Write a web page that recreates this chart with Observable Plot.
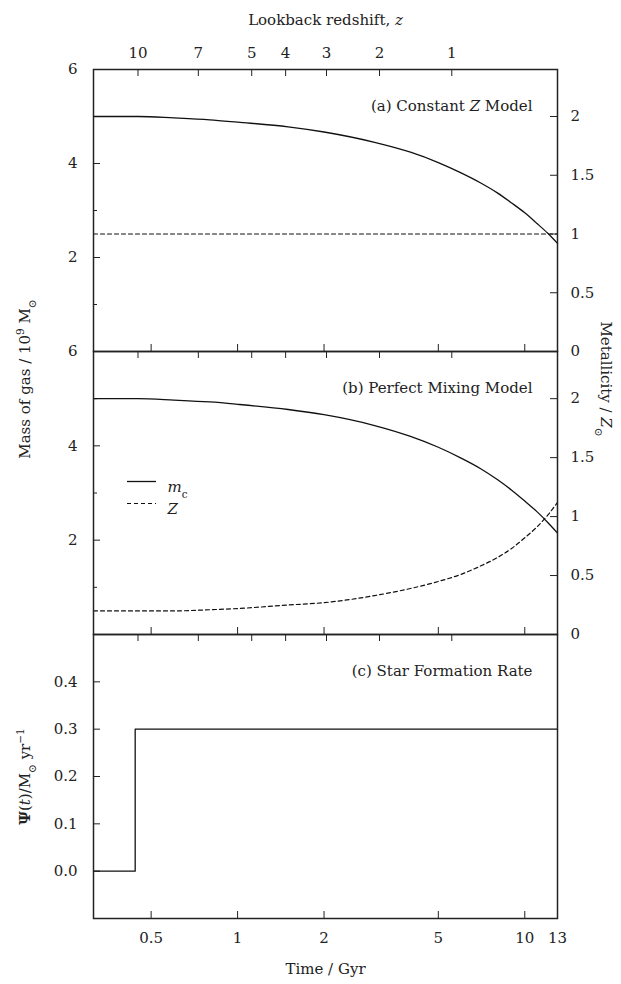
<!DOCTYPE html>
<html><head><meta charset="utf-8">
<script src="https://cdn.jsdelivr.net/npm/d3@7"></script>
<script src="https://cdn.jsdelivr.net/npm/@observablehq/plot@0.6"></script>
<style>
body{margin:0;background:#fff;}
#chart{position:relative;width:621px;height:984px;}
#chart svg{position:absolute;left:0;overflow:visible;}
</style></head><body><div id="chart"></div>
<script>
// ---- data ----
const timeTicks = [0.5, 1, 2, 5, 10, 13];
const timeTickLabels = ["0.5", "1", "2", "5", "10", "13"];
const redshiftTicks = [10, 7, 5, 4, 3, 2, 1];
const redshiftTimes = [0.45, 0.73, 1.12, 1.47, 2.04, 3.12, 5.57];
const curveTimes = [0.315, 0.45, 0.6, 0.8, 1, 1.5, 2, 3, 4, 5, 6, 7, 8, 9, 10, 11, 12, 13];
const massConstZ = [5, 5, 4.97, 4.93, 4.88, 4.78, 4.67, 4.45, 4.24, 4.02, 3.80, 3.59, 3.38, 3.16, 2.95, 2.73, 2.52, 2.30];
const metalConstZ = [1, 1, 1, 1, 1, 1, 1, 1, 1, 1, 1, 1, 1, 1, 1, 1, 1, 1];
const massMixing = [5, 5, 4.97, 4.93, 4.88, 4.77, 4.66, 4.43, 4.20, 3.97, 3.74, 3.52, 3.29, 3.06, 2.83, 2.61, 2.38, 2.15];
const metalMixing = [0.2, 0.2, 0.2, 0.21, 0.22, 0.25, 0.27, 0.33, 0.39, 0.45, 0.51, 0.58, 0.65, 0.73, 0.82, 0.91, 1.01, 1.12];
const sfrTimes = [0.315, 0.44, 13];
const sfrValues = [0, 0.3, 0.3];
const massTicksMajor = [0, 2, 4, 6];
const massTicksMinor = [1, 3, 5];
const massLabels = [2, 4, 6];
const metalTicks = [0, 0.5, 1, 1.5, 2];
const sfrTicks = [0, 0.1, 0.2, 0.3, 0.4];
const legendKeys = ["m_c", "Z"];

// ---- layout ----
const W = 621, ML = 93, MR = 64, FW = W - ML - MR;
const xDomain = [0.315, 13];
const massDomain = [0, 6];
const metalFactor = 6 / 2.4;
const FONT = "DejaVu Serif, Liberation Serif, serif";
const INK = "#222";

function tbl(keys, cols) {
  return keys.map((_, i) => Object.fromEntries(Object.entries(cols).map(([k, v]) => [k, v[i]])));
}

function commonMarks(H) {
  return [
    Plot.tickX(timeTicks.filter(d => d < 13), {x: d => d, insetTop: H - 7, stroke: INK}),
    Plot.tickX(redshiftTimes, {x: d => d, insetBottom: H - 7, stroke: INK})
  ];
}

function panel({H, mt, mb, yDomain, marks}) {
  return Plot.plot({
    width: W, height: H + mt + mb,
    marginLeft: ML, marginRight: MR, marginTop: mt, marginBottom: mb,
    x: {type: "log", domain: xDomain, axis: null},
    y: {domain: yDomain, axis: null},
    style: {fontFamily: FONT, fontSize: "15px", color: INK, background: "transparent", overflow: "visible"},
    marks: [...commonMarks(H), ...marks, Plot.frame({stroke: INK, strokeWidth: 1.5})]
  });
}

function gasPanel(H, mt, mb, mass, metal, label, extra) {
  const rows = tbl(curveTimes, {t: curveTimes, m: mass, z: metal});
  return panel({H, mt, mb, yDomain: massDomain, marks: [
    Plot.tickY(massTicksMajor, {y: d => d, insetRight: FW - 7, stroke: INK}),
    Plot.tickY(massTicksMinor, {y: d => d, insetRight: FW - 4, stroke: INK}),
    Plot.tickY(metalTicks, {y: d => d * metalFactor, insetLeft: FW - 7, stroke: INK}),
    Plot.text(massLabels, {y: d => d, frameAnchor: "left", dx: -16, textAnchor: "end", text: d => String(d), fill: INK}),
    Plot.text(metalTicks, {y: d => d * metalFactor, frameAnchor: "right", dx: 13, textAnchor: "start", text: d => String(d), fill: INK}),
    Plot.line(rows, {x: "t", y: "m", stroke: "#111", strokeWidth: 1.3, curve: "monotone-x"}),
    Plot.line(rows, {x: "t", y: d => d.z * metalFactor, stroke: "#111", strokeWidth: 1.2, strokeDasharray: "4,3", curve: "monotone-x"}),
    Plot.text([label], {frameAnchor: "top-right", dx: -25, dy: 31, textAnchor: "end", text: d => d, fill: INK}),
    ...extra
  ]});
}

const chart = document.getElementById("chart");

// Panel (a)
const pa = gasPanel(282, 69, 0, massConstZ, metalConstZ, "(a) Constant Z Model", [
  Plot.text(redshiftTicks, {x: (d, i) => redshiftTimes[i], frameAnchor: "top", dy: -22, text: d => String(d), fill: INK}),
  Plot.text(["Lookback redshift, z"], {frameAnchor: "top", dy: -55, text: d => d, fill: INK})
]);
pa.style.top = "0px";
chart.appendChild(pa);

// Panel (b)
const pb = gasPanel(283, 0, 0, massMixing, metalMixing, "(b) Perfect Mixing Model", [
  Plot.tickY([legendKeys[0]], {y: () => massDomain[1], dy: 130, insetLeft: 34, insetRight: FW - 63, stroke: "#111", strokeWidth: 1.3}),
  Plot.tickY([legendKeys[1]], {y: () => massDomain[1], dy: 152, insetLeft: 34, insetRight: FW - 63, stroke: "#111", strokeWidth: 1.2, strokeDasharray: "4,3"}),
  Plot.text([legendKeys[0]], {frameAnchor: "top-left", dx: 74, dy: 130, text: d => d, textAnchor: "start", fill: INK}),
  Plot.text([legendKeys[1]], {frameAnchor: "top-left", dx: 74, dy: 152, text: d => d, textAnchor: "start", fill: INK}),
  Plot.text(["Mass of gas / 10⁹ M⊙"], {frameAnchor: "left", dx: -68, dy: -114, rotate: -90, textAnchor: "middle", text: d => d, fill: INK}),
  Plot.text(["Metallicity / Z⊙"], {frameAnchor: "right", dx: 48, dy: -114, rotate: 90, textAnchor: "middle", text: d => d, fill: INK})
]);
pb.style.top = "351px";
chart.appendChild(pb);

// Panel (c)
const sfrRows = tbl(sfrTimes, {t: sfrTimes, s: sfrValues});
const pc = panel({H: 284, mt: 0, mb: 66, yDomain: [-0.1, 0.5], marks: [
  Plot.tickY(sfrTicks, {y: d => d, insetRight: FW - 7, stroke: INK}),
  Plot.text(sfrTicks, {y: d => d, frameAnchor: "left", dx: -16, textAnchor: "end", text: d => d.toFixed(1), fill: INK}),
  Plot.text(timeTicks, {x: d => d, frameAnchor: "bottom", dy: 24, text: (d, i) => timeTickLabels[i], fill: INK}),
  Plot.text(["Time / Gyr"], {frameAnchor: "bottom", dy: 55, text: d => d, fill: INK}),
  Plot.text(["Ψ(t)/M⊙ yr⁻¹"], {frameAnchor: "left", dx: -68, rotate: -90, textAnchor: "middle", text: d => d, fill: INK}),
  Plot.line(sfrRows, {x: "t", y: "s", stroke: "#111", strokeWidth: 1.3, curve: "step-after"}),
  Plot.text(["(c) Star Formation Rate"], {frameAnchor: "top-right", dx: -25, dy: 31, textAnchor: "end", text: d => d, fill: INK})
]});
pc.style.top = "634px";
chart.appendChild(pc);

// ---- rich text ----
const sub = s => `<tspan baseline-shift="sub" font-size="70%">${s}</tspan>`;
const sup = s => `<tspan baseline-shift="super" font-size="70%">${s}</tspan>`;
const it = s => `<tspan font-style="italic">${s}</tspan>`;
const rich = {
  "Lookback redshift, z": `Lookback redshift, ${it("z")}`,
  "(a) Constant Z Model": `(a) Constant ${it("Z")} Model`,
  "Mass of gas / 10⁹ M⊙": `Mass of gas / 10${sup("9")} M${sub("⊙")}`,
  "Metallicity / Z⊙": `Metallicity / ${it("Z")}${sub("⊙")}`,
  "Ψ(t)/M⊙ yr⁻¹": `<tspan font-weight="bold">Ψ</tspan>(${it("t")})/M${sub("⊙")} yr${sup("−1")}`,
  "m_c": `${it("m")}${sub("c")}`,
  "Z": it("Z")
};
for (const svg of [pa, pb, pc]) {
  d3.select(svg).selectAll("text").each(function () {
    const k = this.textContent;
    if (rich[k]) d3.select(this).html(rich[k]);
  });
}
</script></body></html>
